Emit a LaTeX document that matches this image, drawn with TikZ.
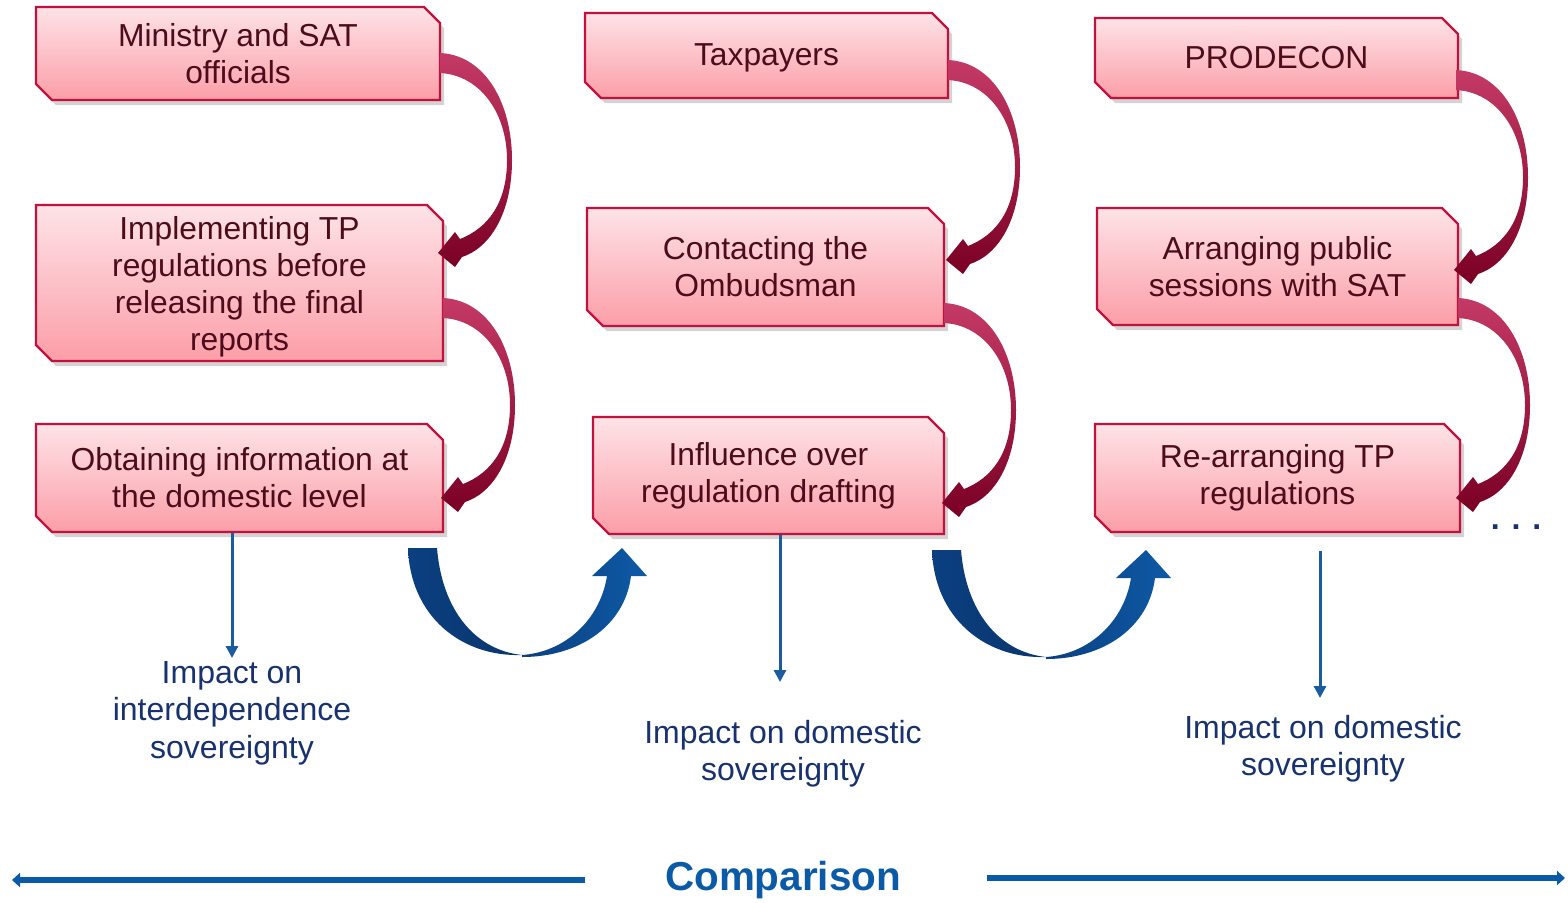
\documentclass[tikz,border=0pt]{standalone}
\usepackage{fontspec}
\setmainfont{Liberation Sans}
\usetikzlibrary{shapes.misc,shadows,arrows.meta}
\definecolor{boxtop}{HTML}{FDE3E7}
\definecolor{boxbot}{HTML}{FC9EA8}
\definecolor{boxline}{HTML}{C4103C}
\definecolor{boxtext}{HTML}{4D0C1C}
\definecolor{redA}{HTML}{C43A66}
\definecolor{redB}{HTML}{7A0024}
\definecolor{blueA}{HTML}{0B3F80}
\definecolor{blueB}{HTML}{0E5AA6}
\definecolor{thinblue}{HTML}{1A5C9E}
\definecolor{impact}{HTML}{17326E}
\definecolor{comp}{HTML}{0A5AA8}
\tikzset{
  stepbox/.style={chamfered rectangle, chamfered rectangle corners={north east,south west},
    chamfered rectangle xsep=4pt, chamfered rectangle ysep=4pt,
    draw=boxline, line width=1.2pt, top color=boxtop, bottom color=boxbot,
    drop shadow={opacity=0.35, shadow xshift=2pt, shadow yshift=-2.5pt},
    text=boxtext, align=center, inner sep=0pt,
    font=\fontsize{15.9}{18.5}\selectfont},
  impacttext/.style={text=impact, align=center, font=\fontsize{16}{18.7}\selectfont},
  thinarrow/.style={draw=thinblue, line width=1.5pt, -{Triangle[width=6pt,length=6pt]}},
  comparrow/.style={draw=comp, line width=3pt, -{Triangle[width=7pt,length=4pt]}},
  redarr/.pic={
    \shade[top color=redA, bottom color=redB]
      (0,0) .. controls (45,2) and (72,50) .. (72,107)
      .. controls (72,160) and (50,195) .. (22,204) -- (15,214) -- (-2,200) -- (15,179) -- (20,186)
      .. controls (48,175) and (67,150) .. (67,107)
      .. controls (67,60) and (40,22) .. (0,20) -- cycle;
  },
  bluearr/.pic={
    \shade[left color=blueA, right color=blueA!85!black]
      (408,548) -- (437,548) .. controls (442,610) and (475,650) .. (522,655)
      .. controls (460,657) and (410,615) .. (408,548) -- cycle;
    \shade[left color=blueA, right color=blueB]
      (522,655) .. controls (565,652) and (600,620) .. (607,576) -- (592,576) -- (622,548)
      -- (647,576) -- (631,576) .. controls (625,625) and (580,657) .. (522,657) -- cycle;
  }
}
\begin{document}
\begin{tikzpicture}[x=0.5pt,y=-0.5pt]
\useasboundingbox (0,0) rectangle (1568,902);
% boxes
\node[stepbox, minimum width=202pt, minimum height=46.5pt] (b1) at (238,53.5) {Ministry and SAT\\officials};
\node[stepbox, minimum width=203.5pt, minimum height=78pt, text depth=0pt] (b2) at (239.5,283) {Implementing TP\\regulations before\\releasing the final\\reports};
\node[stepbox, minimum width=203.5pt, minimum height=54pt] (b3) at (239.5,478) {Obtaining information at\\the domestic level};
\node[stepbox, minimum width=181.5pt, minimum height=42.5pt, text height=11pt, text depth=1pt] (b4) at (766.5,55.5) {Taxpayers};
\node[stepbox, minimum width=178.5pt, minimum height=59pt] (b5) at (765.5,267) {Contacting the\\Ombudsman};
\node[stepbox, minimum width=175.5pt, minimum height=58.5pt] (b6) at (768.5,475.5) {Influence over\\regulation drafting};
\node[stepbox, minimum width=181.5pt, minimum height=40pt, text height=11pt, text depth=1pt] (b7) at (1276.5,58) {PRODECON};
\node[stepbox, minimum width=180.5pt, minimum height=58.5pt] (b8) at (1277.5,266.5) {Arranging public\\sessions with SAT};
\node[stepbox, minimum width=182.5pt, minimum height=54pt] (b9) at (1277.5,478) {Re-arranging TP\\regulations};
% red curved arrows
\pic at (440,53) {redarr};
\pic at (443,298) {redarr};
\pic at (948,60) {redarr};
\pic at (944,303) {redarr};
\pic at (1456,70) {redarr};
\pic at (1458,298) {redarr};
% blue U arrows
\pic at (0,0) {bluearr};
\pic at (524,2) {bluearr};
% impact texts
\node[impacttext] (i1) at (232,713) {Impact on\\interdependence\\sovereignty};
\node[impacttext] (i2) at (783,754) {Impact on domestic\\sovereignty};
\node[impacttext] (i3) at (1323,749) {Impact on domestic\\sovereignty};
\coordinate (s3) at (1320,551);
\draw[thinarrow] (b3.south -| 232,0) -- (232,658);
\draw[thinarrow] (b6.south -| 780,0) -- (780,682);
\draw[thinarrow] (s3) -- (1320,698);
% dots
\node[text=impact, font=\fontsize{16}{18}\selectfont\bfseries] (dots) at (1516,527) {. . .};
% comparison
\node[text=comp, font=\fontsize{20.2}{24}\selectfont\bfseries] (cmp) at (783,880) {Comparison};
\coordinate (l0) at (585,880);
\coordinate (l1) at (12,880);
\coordinate (r0) at (987,878);
\coordinate (r1) at (1565,878);
\draw[comparrow] (l0) -- (l1);
\draw[comparrow] (r0) -- (r1);
\end{tikzpicture}
\end{document}
